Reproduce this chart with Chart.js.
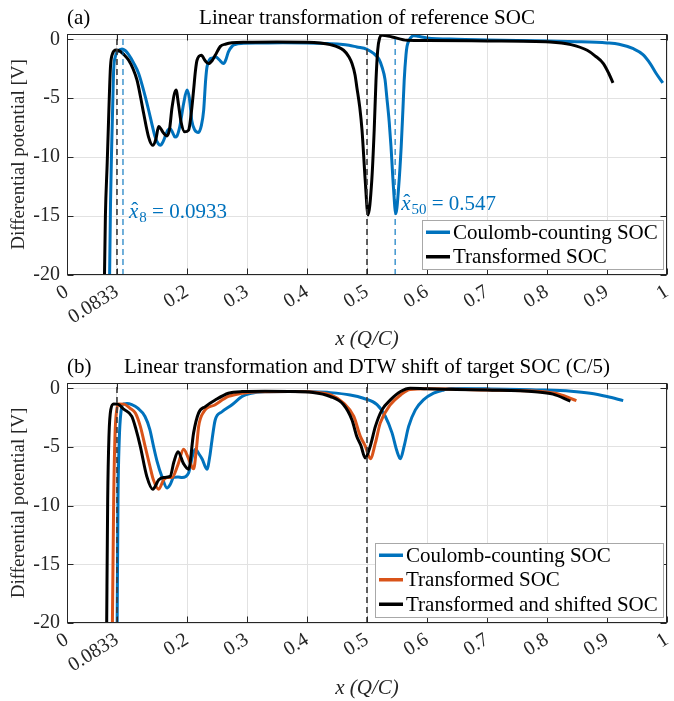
<!DOCTYPE html>
<html>
<head>
<meta charset="utf-8">
<script src="https://cdn.jsdelivr.net/npm/chart.js@4/dist/chart.umd.min.js"></script>
<style>
  body { margin: 0; background: #fff; }
  #wrap { position: relative; width: 674px; height: 701px; }
  canvas { position: absolute; left: 0; }
</style>
</head>
<body>
<div id="wrap">
  <canvas id="chartA" width="674" height="352" style="top:0"></canvas>
  <canvas id="chartB" width="674" height="349" style="top:352px"></canvas>
</div>
<script>
// ticks
const xTicks = [0, 0.0833, 0.2, 0.3, 0.4, 0.5, 0.6, 0.7, 0.8, 0.9, 1];
const xTickLabels = ['0', '0.0833', '0.2', '0.3', '0.4', '0.5', '0.6', '0.7', '0.8', '0.9', '1'];
const yTicks = [-20, -15, -10, -5, 0];
const yTickLabels = ['-20', '-15', '-10', '-5', '0'];

// (a) Coulomb-counting SOC
const aCcX = [0.0708,0.0725,0.0745,0.0760,0.0778,0.0810,0.0850,0.0917,0.0970,0.1028,0.1110,0.1194,0.1280,0.1360,0.1420,0.1470,0.1520,0.1556,0.1600,0.1640,0.1680,0.1720,0.1760,0.1800,0.1833,0.1880,0.1944,0.2000,0.2040,0.2080,0.2130,0.2190,0.2240,0.2278,0.2310,0.2333,0.2380,0.2417,0.2480,0.2540,0.2610,0.2650,0.2690,0.2750,0.2800,0.2900,0.3200,0.3600,0.4000,0.4300,0.4550,0.4700,0.4830,0.5000,0.5110,0.5200,0.5250,0.5300,0.5330,0.5370,0.5400,0.5440,0.5480,0.5528,0.5570,0.5600,0.5620,0.5650,0.5667,0.5700,0.5778,0.5850,0.6000,0.6500,0.7000,0.7500,0.8000,0.8500,0.9000,0.9200,0.9440,0.9600,0.9720,0.9820,0.9930];
const aCcY = [-21,-14,-9,-6,-2.6,-1.4,-1.0,-0.82,-0.95,-1.3,-2.0,-2.9,-4.4,-6.0,-7.3,-8.3,-8.85,-9.0,-8.7,-8.2,-7.7,-7.6,-7.9,-8.3,-8.2,-7.4,-5.45,-4.3,-5.0,-6.9,-7.7,-7.9,-7.3,-6.0,-3.5,-2.35,-1.7,-1.6,-1.5,-1.75,-2.06,-1.7,-1.07,-0.6,-0.45,-0.35,-0.32,-0.3,-0.32,-0.36,-0.42,-0.5,-0.65,-0.85,-1.2,-1.7,-2.35,-3.4,-4.9,-7.0,-9.1,-12.5,-14.8,-12.5,-9.1,-5.8,-3.47,-1.3,-0.6,-0.1,0.3,0.25,0.12,0.0,-0.05,-0.1,-0.15,-0.2,-0.31,-0.42,-0.8,-1.3,-2.06,-2.9,-3.7];
// (a) Transformed SOC
const aTfX = [0.0622,0.0640,0.0670,0.0695,0.0705,0.0725,0.0760,0.0817,0.0880,0.0950,0.1028,0.1100,0.1167,0.1230,0.1278,0.1360,0.1428,0.1480,0.1528,0.1565,0.1600,0.1667,0.1710,0.1750,0.1817,0.1860,0.1900,0.1960,0.2027,0.2070,0.2110,0.2140,0.2167,0.2240,0.2300,0.2360,0.2420,0.2470,0.2556,0.2650,0.2750,0.3000,0.3500,0.4000,0.4389,0.4610,0.4700,0.4750,0.4800,0.4830,0.4880,0.4917,0.4970,0.5017,0.5080,0.5120,0.5150,0.5178,0.5210,0.5250,0.5417,0.5667,0.6000,0.7000,0.8050,0.8400,0.8670,0.8800,0.8940,0.9030,0.9100];
const aTfY = [-21,-15,-10.5,-6.5,-4.9,-2.3,-1.2,-0.9,-1.0,-1.3,-1.78,-2.5,-3.47,-5.0,-6.3,-8.3,-9.0,-8.5,-7.4,-7.6,-7.9,-8.2,-7.6,-5.8,-4.3,-5.6,-7.0,-7.85,-7.7,-6.3,-4.3,-2.7,-1.78,-1.36,-1.8,-2.06,-1.8,-1.36,-0.6,-0.4,-0.3,-0.25,-0.23,-0.24,-0.45,-0.93,-1.5,-2.06,-3.0,-4.04,-5.8,-7.7,-11.95,-14.9,-11.95,-7.7,-3.47,-0.93,0.1,0.34,0.2,-0.08,-0.1,-0.14,-0.23,-0.45,-0.93,-1.4,-2.06,-2.9,-3.7];
const aBlackMarks = [0.0833, 0.5];
const aBlueMarks = [0.0933, 0.547];
const aNotes = [{ x: 0.0933, y: -14.6, sub: '8', value: '0.0933' }, { x: 0.547, y: -13.9, sub: '50', value: '0.547' }];

// (b) Coulomb-counting SOC
const bCcX = [0.0835,0.0850,0.0870,0.0900,0.0944,0.1000,0.1080,0.1180,0.1300,0.1380,0.1440,0.1500,0.1580,0.1667,0.1720,0.1778,0.1850,0.1917,0.2027,0.2090,0.2139,0.2200,0.2250,0.2333,0.2380,0.2417,0.2470,0.2583,0.2750,0.2917,0.3050,0.3300,0.3700,0.4100,0.4389,0.4720,0.4940,0.5167,0.5306,0.5417,0.5500,0.5556,0.5620,0.5694,0.5806,0.5940,0.6110,0.6280,0.6400,0.7000,0.7890,0.8400,0.8720,0.9000,0.9270];
const bCcY = [-21,-9.5,-4.5,-2.0,-1.33,-1.3,-1.4,-1.7,-2.4,-3.5,-4.9,-6.2,-7.5,-8.5,-8.2,-7.6,-7.55,-7.6,-7.2,-5.8,-5.2,-5.6,-6.0,-6.9,-5.8,-4.4,-2.7,-2.0,-1.4,-0.7,-0.45,-0.3,-0.28,-0.3,-0.37,-0.57,-0.85,-1.4,-2.4,-3.8,-5.37,-6.0,-4.9,-3.25,-1.84,-0.99,-0.42,-0.14,-0.02,-0.05,-0.14,-0.25,-0.42,-0.7,-1.05];
// (b) Transformed SOC
const bTfX = [0.0755,0.0778,0.0800,0.0830,0.0860,0.0950,0.1050,0.1139,0.1220,0.1300,0.1380,0.1440,0.1528,0.1610,0.1672,0.1750,0.1850,0.1944,0.2027,0.2110,0.2160,0.2194,0.2280,0.2470,0.2690,0.2917,0.3200,0.3700,0.4100,0.4389,0.4610,0.4780,0.4889,0.4970,0.5056,0.5140,0.5220,0.5390,0.5560,0.5720,0.6000,0.7000,0.7890,0.8200,0.8490];
const bTfY = [-21,-9.5,-4.0,-1.8,-1.33,-1.35,-1.7,-2.1,-3.2,-4.9,-6.6,-7.8,-8.6,-7.8,-7.6,-7.6,-6.5,-5.2,-6.0,-6.86,-5.0,-3.25,-2.0,-1.4,-0.7,-0.42,-0.3,-0.28,-0.32,-0.55,-1.27,-2.4,-4.1,-4.9,-6.0,-4.66,-2.97,-1.4,-0.57,-0.1,-0.05,-0.15,-0.28,-0.5,-1.05];
// (b) Transformed and shifted SOC
const bShX = [0.0660,0.0678,0.0700,0.0730,0.0778,0.0844,0.0950,0.1080,0.1150,0.1220,0.1330,0.1430,0.1530,0.1610,0.1720,0.1780,0.1850,0.1940,0.2027,0.2110,0.2194,0.2306,0.2470,0.2690,0.2917,0.3300,0.3700,0.4100,0.4389,0.4610,0.4750,0.4830,0.4900,0.4970,0.5056,0.5140,0.5250,0.5390,0.5560,0.5720,0.6000,0.7000,0.7800,0.8100,0.8390];
const bShY = [-21,-9.5,-4.0,-1.8,-1.33,-1.35,-1.8,-2.4,-3.5,-4.9,-7.5,-8.6,-7.8,-7.6,-7.5,-6.3,-5.4,-6.4,-6.9,-3.8,-2.1,-1.56,-1.0,-0.42,-0.28,-0.25,-0.27,-0.35,-0.7,-1.4,-2.7,-4.1,-4.9,-5.93,-4.9,-3.25,-1.84,-0.99,-0.28,0.0,-0.05,-0.15,-0.3,-0.5,-1.1];
const bBlackMarks = [0.0833, 0.5];

const BLUE = '#0072BD', ORANGE = '#D95319', BLACK = '#000000';
const FONT = '"Liberation Serif", serif';
const TXT = '#262626';
const Y_MIN = -20, Y_MAX = 0.45;

Chart.defaults.font.family = FONT;
Chart.defaults.color = TXT;

const pts = (xs, ys) => xs.map((x, i) => ({ x: x, y: ys[i] }));

function curve(label, xs, ys, color, order) {
  return {
    label: label, inLegend: true, data: pts(xs, ys),
    borderColor: color, borderWidth: 3, pointRadius: 0,
    cubicInterpolationMode: 'monotone', order: order, clip: 0
  };
}
function marks(xs, color) {
  return xs.map(m => ({
    label: '', inLegend: false,
    data: [{ x: m, y: Y_MIN }, { x: m, y: Y_MAX }],
    borderColor: color, borderWidth: 1.6, borderDash: [6, 4],
    pointRadius: 0, order: 0
  }));
}

const panelPlugin = {
  id: 'panel',
  afterDraw(chart, args, opts) {
    const ctx = chart.ctx, a = chart.chartArea;
    const xs = chart.scales.x, ys = chart.scales.y;
    ctx.save();
    // axes box with inward ticks
    const L = Math.round(a.left) + 0.5, R = Math.round(a.right) - 0.5;
    const T = Math.round(a.top) + 0.5, B = Math.round(a.bottom) - 0.5;
    ctx.strokeStyle = TXT; ctx.lineWidth = 1; ctx.setLineDash([]);
    ctx.strokeRect(L, T, R - L, B - T);
    ctx.beginPath();
    xTicks.forEach(v => {
      const p = Math.round(xs.getPixelForValue(v)) + 0.5;
      ctx.moveTo(p, B); ctx.lineTo(p, B - 6);
      ctx.moveTo(p, T); ctx.lineTo(p, T + 6);
    });
    yTicks.forEach(v => {
      const p = Math.round(ys.getPixelForValue(v)) + 0.5;
      ctx.moveTo(L, p); ctx.lineTo(L + 6, p);
      ctx.moveTo(R, p); ctx.lineTo(R - 6, p);
    });
    ctx.stroke();

    // panel tag and title
    ctx.fillStyle = '#000';
    ctx.font = '21px ' + FONT;
    ctx.textBaseline = 'middle';
    ctx.textAlign = 'left';
    ctx.fillText(opts.tag, a.left, opts.titleY);
    ctx.textAlign = 'center';
    ctx.fillText(opts.title, (a.left + a.right) / 2, opts.titleY);

    // x-hat annotations
    (opts.notes || []).forEach(n => {
      let px = xs.getPixelForValue(n.x) + 6;
      const base = ys.getPixelForValue(n.y) + 7;
      ctx.fillStyle = BLUE;
      ctx.textAlign = 'left';
      ctx.textBaseline = 'alphabetic';
      ctx.font = 'italic 21px ' + FONT;
      ctx.fillText('x', px, base);
      const wx = ctx.measureText('x').width;
      ctx.font = '21px ' + FONT;
      ctx.textAlign = 'center';
      ctx.fillText('\u02C6', px + wx / 2 + 1, base - 1);
      ctx.textAlign = 'left';
      px += wx + 1;
      ctx.font = '15px ' + FONT;
      ctx.fillText(n.sub, px, base + 4);
      px += ctx.measureText(n.sub).width;
      ctx.font = '21px ' + FONT;
      ctx.fillText(' = ' + n.value, px, base);
    });

    // legend
    const items = chart.data.datasets.filter(d => d.inLegend);
    ctx.font = '21px ' + FONT;
    const tw = Math.max(...items.map(d => ctx.measureText(d.label).width));
    const rowH = 24.5;
    const w = Math.round(tw + 36), h = Math.round(items.length * rowH);
    const x0 = Math.round(a.right - 4 - w), y0 = Math.round(a.bottom - 6 - h);
    ctx.fillStyle = '#fff';
    ctx.fillRect(x0, y0, w, h);
    ctx.strokeStyle = '#a8a8a8'; ctx.lineWidth = 1;
    ctx.strokeRect(x0 + 0.5, y0 + 0.5, w, h);
    items.forEach((d, i) => {
      const cy = y0 + rowH * (i + 0.5);
      ctx.strokeStyle = d.borderColor; ctx.lineWidth = 3.5;
      ctx.beginPath(); ctx.moveTo(x0 + 4, cy); ctx.lineTo(x0 + 28, cy); ctx.stroke();
      ctx.fillStyle = '#000';
      ctx.textAlign = 'left'; ctx.textBaseline = 'middle';
      ctx.fillText(d.label, x0 + 31, cy + 1);
    });
    ctx.restore();
  }
};

function makeOptions(padTop, xHeight, panel) {
  return {
    responsive: false,
    animation: false,
    layout: { padding: { top: padTop, right: 7, bottom: 0, left: 0 } },
    plugins: { legend: { display: false }, tooltip: { enabled: false }, panel: panel },
    scales: {
      x: {
        type: 'linear', min: 0, max: 1,
        afterBuildTicks: s => { s.ticks = xTicks.map(v => ({ value: v })); },
        afterFit: s => { s.height = xHeight; s.paddingLeft = 0; s.paddingRight = 0; },
        ticks: {
          autoSkip: false, minRotation: 32, maxRotation: 32, padding: 5,
          font: { size: 20 }, color: TXT,
          callback: (v, i) => xTickLabels[i]
        },
        grid: { color: '#e2e2e2', drawTicks: false },
        border: { display: false },
        title: {
          display: true, text: 'x (Q/C)', color: TXT,
          font: { size: 21, style: 'italic' }, padding: { top: 0, bottom: 0 }
        }
      },
      y: {
        type: 'linear', min: Y_MIN, max: Y_MAX,
        afterBuildTicks: s => { s.ticks = yTicks.map(v => ({ value: v })); },
        afterFit: s => { s.width = 67; s.paddingTop = 0; s.paddingBottom = 0; },
        ticks: {
          padding: 7, font: { size: 20 }, color: TXT,
          callback: (v, i) => yTickLabels[i]
        },
        grid: { color: '#e2e2e2', drawTicks: false },
        border: { display: false },
        title: {
          display: true, text: 'Differential potential [V]', color: TXT,
          font: { size: 19 }, padding: { top: 8, bottom: 0 }
        }
      }
    }
  };
}

new Chart(document.getElementById('chartA'), {
  type: 'line',
  data: {
    datasets: [
      curve('Coulomb-counting SOC', aCcX, aCcY, BLUE, 3),
      curve('Transformed SOC', aTfX, aTfY, BLACK, 2),
      ...marks(aBlackMarks, '#3a3a3a'),
      ...marks(aBlueMarks, 'rgba(0,114,189,0.7)')
    ]
  },
  options: makeOptions(34, 77, {
    tag: '(a)', title: 'Linear transformation of reference SOC', titleY: 18, notes: aNotes
  }),
  plugins: [panelPlugin]
});

new Chart(document.getElementById('chartB'), {
  type: 'line',
  data: {
    datasets: [
      curve('Coulomb-counting SOC', bCcX, bCcY, BLUE, 3),
      curve('Transformed SOC', bTfX, bTfY, ORANGE, 2),
      curve('Transformed and shifted SOC', bShX, bShY, BLACK, 1),
      ...marks(bBlackMarks, '#3a3a3a')
    ]
  },
  options: makeOptions(31, 78, {
    tag: '(b)', title: 'Linear transformation and DTW shift of target SOC (C/5)', titleY: 15, notes: []
  }),
  plugins: [panelPlugin]
});
</script>
</body>
</html>
